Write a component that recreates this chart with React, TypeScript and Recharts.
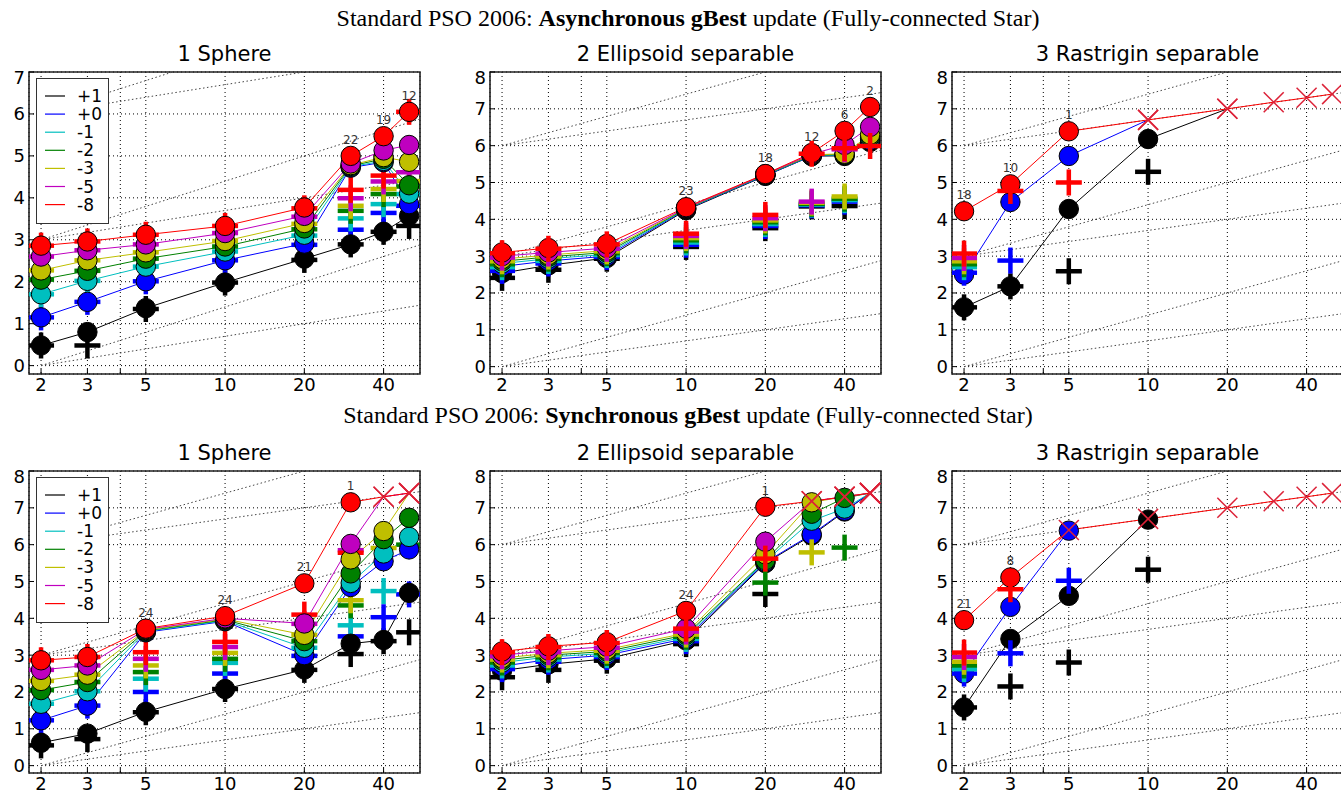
import React from 'react';
import {
  ComposedChart,
  Line,
  Scatter,
  XAxis,
  YAxis,
  CartesianGrid,
  ReferenceLine,
  ReferenceArea,
  LabelList,
  Legend,
} from 'recharts';

const DIMS = [2, 3, 5, 10, 20, 30, 40, 50];
// log10 of the evaluation budget per dimension, points on it are drawn as an x
const BUDGET = [6.0, 6.18, 6.4, 6.7, 7.0, 7.18, 7.3, 7.4];
const SERIES = ['+1', '+0', '-1', '-2', '-3', '-5', '-8'];
const COLORS = ['#000000', '#0000ff', '#00bfbf', '#008000', '#bfbf00', '#bf00bf', '#ff0000'];
const X_TICKS = [2, 3, 4, 5, 10, 20, 40];
const X_DOMAIN: [number, number] = [1.8, 55];
const GUIDE_START = [0, 3, 6];
const GUIDE_SLOPE = [1, 2];

type Vals = (number | null)[];

// --- asynchronous gBest ---
const A_SPHERE_ERT: Vals[] = [
  [0.48, 0.8, 1.37, 1.98, 2.55, 2.89, 3.19, 3.57],
  [1.15, 1.52, 2.01, 2.51, 2.91, 4.72, 4.85, 3.85],
  [1.7, 2.02, 2.36, 2.72, 3.12, 4.74, 4.88, 4.1],
  [2.05, 2.26, 2.55, 2.84, 3.27, 4.76, 4.93, 4.3],
  [2.27, 2.51, 2.7, 2.97, 3.4, 4.78, 4.97, 4.86],
  [2.6, 2.75, 2.89, 3.16, 3.57, 4.82, 5.13, 5.26],
  [2.86, 2.96, 3.12, 3.33, 3.77, 5.0, 5.47, 6.05],
];
const A_SPHERE_MED: Vals[] = [
  [0.48, 0.48, 1.35, 1.98, 2.52, 2.89, 3.19, 3.33],
  [1.15, 1.52, 2.01, 2.51, 2.88, 3.24, 3.64, 3.81],
  [1.7, 2.02, 2.36, 2.72, 3.1, 3.51, 3.85, 4.09],
  [2.05, 2.26, 2.55, 2.84, 3.25, 3.69, 4.09, 4.27],
  [2.27, 2.51, 2.7, 2.97, 3.38, 3.81, 4.21, 4.4],
  [2.6, 2.75, 2.89, 3.16, 3.55, 3.99, 4.39, 4.61],
  [2.86, 2.96, 3.12, 3.33, 3.75, 4.19, 4.53, 6.05],
];
const A_SPHERE_N: Vals = [null, null, null, null, null, 22, 19, 12];

const A_ELLI_ERT: Vals[] = [
  [2.54, 2.75, 2.95, 4.25, 5.18, 5.72, 5.72, 6.1],
  [2.72, 2.87, 3.0, 4.27, 5.19, 5.72, 5.74, 6.15],
  [2.8, 2.93, 3.05, 4.28, 5.2, 5.73, 5.75, 6.2],
  [2.86, 2.98, 3.1, 4.29, 5.21, 5.74, 5.76, 6.25],
  [2.92, 3.03, 3.15, 4.3, 5.22, 5.75, 5.78, 6.3],
  [3.0, 3.1, 3.22, 4.31, 5.22, 5.77, 6.02, 6.51],
  [3.1, 3.22, 3.33, 4.33, 5.23, 5.8, 6.4, 7.05],
];
const A_ELLI_MED: Vals[] = [
  [2.41, 2.63, 2.93, 3.25, 3.76, 4.35, 4.36, null],
  [2.6, 2.8, 2.98, 3.31, 3.82, 4.38, 4.48, null],
  [2.7, 2.87, 3.03, 3.37, 3.87, 4.4, 4.52, null],
  [2.78, 2.93, 3.08, 3.43, 3.92, 4.42, 4.56, null],
  [2.86, 2.99, 3.13, 3.49, 3.97, 4.45, 4.62, null],
  [2.96, 3.07, 3.2, 3.55, 4.03, 4.48, 5.9, null],
  [3.08, 3.2, 3.32, 3.61, 4.12, 5.78, 5.93, 5.99],
];
const A_ELLI_N: Vals = [null, null, null, 23, 18, 12, 6, 2];

const A_RAST_ERT: Vals[] = [
  [1.61, 2.18, 4.28, 6.18, 7.0, null, null, null],
  [2.5, 4.47, 5.72, 6.7, null, null, null, null],
  [null, null, null, null, null, null, null, null],
  [null, null, null, null, null, null, null, null],
  [null, null, null, null, null, null, null, null],
  [null, null, null, null, null, null, null, null],
  [4.22, 4.95, 6.39, 6.7, 7.0, 7.18, 7.3, 7.4],
];
const A_RAST_MED: Vals[] = [
  [1.61, 2.18, 2.59, 5.29, null, null, null, null],
  [2.55, 2.88, null, null, null, null, null, null],
  [2.7, null, null, null, null, null, null, null],
  [2.78, null, null, null, null, null, null, null],
  [2.86, null, null, null, null, null, null, null],
  [2.95, null, null, null, null, null, null, null],
  [3.07, 4.77, 5.0, null, null, null, null, null],
];
const A_RAST_N: Vals = [18, 10, 1, null, null, null, null, null];

// --- synchronous gBest ---
const S_SPHERE_ERT: Vals[] = [
  [0.62, 0.87, 1.46, 2.08, 2.61, 3.31, 3.41, 4.69],
  [1.23, 1.63, 3.62, 3.92, 3.0, 4.85, 5.55, 5.87],
  [1.68, 2.02, 3.64, 3.94, 3.2, 4.96, 5.76, 6.21],
  [2.05, 2.27, 3.66, 3.96, 3.38, 5.22, 6.15, 6.73],
  [2.3, 2.47, 3.68, 3.98, 3.55, 5.6, 6.37, 7.4],
  [2.6, 2.72, 3.7, 4.0, 3.86, 6.02, 7.3, 7.4],
  [2.86, 2.95, 3.72, 4.06, 4.95, 7.15, 7.3, 7.4],
];
const S_SPHERE_MED: Vals[] = [
  [0.55, 0.72, 1.45, 2.08, 2.6, 3.03, 3.38, 3.62],
  [1.23, 1.63, 2.0, 2.5, 2.98, 3.51, 4.03, 4.65],
  [1.68, 2.02, 2.36, 2.79, 3.2, 3.81, 4.74, null],
  [2.05, 2.27, 2.54, 2.9, 3.38, 4.35, null, 6.0],
  [2.3, 2.47, 2.72, 3.06, 3.55, 4.49, 5.91, null],
  [2.6, 2.72, 2.9, 3.22, 3.85, 5.85, null, null],
  [2.86, 2.95, 3.08, 3.36, 4.1, 5.78, null, null],
];
const S_SPHERE_N: Vals = [null, null, 24, 24, 21, 1, null, null];

const S_ELLI_ERT: Vals[] = [
  [2.58, 2.75, 2.9, 3.4, 5.5, 6.25, 6.9, 7.4],
  [2.7, 2.88, 3.0, 3.45, 5.52, 6.28, 6.92, 7.4],
  [2.8, 2.95, 3.05, 3.5, 5.55, 6.65, 6.98, 7.4],
  [2.86, 3.0, 3.1, 3.55, 5.58, 6.84, 7.27, 7.4],
  [2.92, 3.05, 3.15, 3.6, 5.74, 7.15, 7.3, 7.4],
  [3.0, 3.12, 3.23, 3.72, 6.08, 7.18, 7.3, 7.4],
  [3.1, 3.24, 3.35, 4.2, 7.03, 7.18, 7.3, 7.4],
];
const S_ELLI_MED: Vals[] = [
  [2.4, 2.6, 2.85, 3.3, 4.66, null, null, null],
  [2.62, 2.82, 2.95, 3.38, null, null, null, null],
  [2.72, 2.88, 3.0, 3.44, null, null, null, null],
  [2.8, 2.94, 3.06, 3.5, 4.97, null, 5.92, null],
  [2.88, 3.0, 3.12, 3.56, null, 5.79, null, null],
  [2.97, 3.08, 3.2, 3.64, null, null, null, null],
  [3.08, 3.22, 3.33, 3.72, 5.62, null, null, null],
];
const S_ELLI_N: Vals = [null, null, null, 24, 1, null, null, null];

const S_RAST_ERT: Vals[] = [
  [1.58, 3.44, 4.61, 6.68, null, null, null, null],
  [2.5, 4.31, 6.38, null, null, null, null, null],
  [null, null, null, null, null, null, null, null],
  [null, null, null, null, null, null, null, null],
  [null, null, null, null, null, null, null, null],
  [null, null, null, null, null, null, null, null],
  [3.95, 5.11, 6.4, 6.7, 7.0, 7.18, 7.3, 7.4],
];
const S_RAST_MED: Vals[] = [
  [1.58, 2.15, 2.8, 5.32, null, null, null, null],
  [2.5, 3.05, 5.02, null, null, null, null, null],
  [2.62, null, null, null, null, null, null, null],
  [2.72, null, null, null, null, null, null, null],
  [2.82, null, null, null, null, null, null, null],
  [2.95, null, null, null, null, null, null, null],
  [3.07, 4.79, null, null, null, null, null, null],
];
const S_RAST_N: Vals = [21, 8, null, null, null, null, null, null];

const PLOT_W = 391;
const PLOT_H = 302;
const MARGIN = { top: 5, right: 5, bottom: 0, left: 5 };
const Y_AXIS_W = 24;
const X_AXIS_H = 30;
const CAP_COLOR = '#dc2238';
const FONT = '"DejaVu Sans", Verdana, sans-serif';

interface PanelDef {
  title: string;
  ert: Vals[];
  med: Vals[];
  n: Vals;
  yMax: number;
  legend?: boolean;
  left: number;
  top: number;
}

const PANELS: PanelDef[] = [
  { title: '1 Sphere', ert: A_SPHERE_ERT, med: A_SPHERE_MED, n: A_SPHERE_N, yMax: 7, legend: true, left: 29, top: 72 },
  { title: '2 Ellipsoid separable', ert: A_ELLI_ERT, med: A_ELLI_MED, n: A_ELLI_N, yMax: 8, left: 490, top: 72 },
  { title: '3 Rastrigin separable', ert: A_RAST_ERT, med: A_RAST_MED, n: A_RAST_N, yMax: 8, left: 952, top: 72 },
  { title: '1 Sphere', ert: S_SPHERE_ERT, med: S_SPHERE_MED, n: S_SPHERE_N, yMax: 8, legend: true, left: 29, top: 471 },
  { title: '2 Ellipsoid separable', ert: S_ELLI_ERT, med: S_ELLI_MED, n: S_ELLI_N, yMax: 8, left: 490, top: 471 },
  { title: '3 Rastrigin separable', ert: S_RAST_ERT, med: S_RAST_MED, n: S_RAST_N, yMax: 8, left: 952, top: 471 },
];

const makeDot = (i: number) => (props: any) => {
  const { cx, cy, index, payload } = props;
  const key = `dot-${i}-${index}`;
  const v = payload ? payload[`s${i}`] : null;
  if (v == null || cx == null || cy == null) return <g key={key} />;
  if (Math.abs(v - BUDGET[index]) < 0.005) {
    const s = 10;
    return (
      <g key={key}>
        <line x1={cx - s} y1={cy - s} x2={cx + s} y2={cy + s} stroke={CAP_COLOR} strokeWidth={1.5} />
        <line x1={cx - s} y1={cy + s} x2={cx + s} y2={cy - s} stroke={CAP_COLOR} strokeWidth={1.5} />
      </g>
    );
  }
  return <circle key={key} cx={cx} cy={cy} r={9.7} fill={COLORS[i]} stroke="#000" strokeWidth={1} />;
};

const makePlus = (color: string) => (props: any) => {
  const { cx, cy } = props;
  if (cx == null || cy == null) return <g />;
  const s = 13;
  return (
    <g>
      <line x1={cx - s} y1={cy} x2={cx + s} y2={cy} stroke={color} strokeWidth={4.5} />
      <line x1={cx} y1={cy - s} x2={cx} y2={cy + s} stroke={color} strokeWidth={4.5} />
    </g>
  );
};

const renderCount = (props: any) => {
  const { x, y, value, index } = props;
  if (value == null) return null;
  return (
    <text key={`n-${index}`} x={x} y={y - 12} textAnchor="middle" fontSize={12} fill="#333" fontFamily={FONT}>
      {value}
    </text>
  );
};

const LegendBox = () => (
  <svg width={73} height={146} style={{ display: 'block' }}>
    <rect x={0.5} y={0.5} width={72} height={145} fill="#fff" stroke="#333" strokeWidth={1} />
    {SERIES.map((name, i) => {
      const y = 18 + i * 18.1;
      return (
        <g key={name}>
          <line x1={9} x2={29} y1={y} y2={y} stroke={COLORS[i]} strokeWidth={1.2} />
          <text x={41} y={y} dominantBaseline="central" fontSize={17} fontFamily={FONT} fill="#000">
            {name}
          </text>
        </g>
      );
    })}
  </svg>
);

const Panel: React.FC<{ p: PanelDef }> = ({ p }) => {
  const rows = DIMS.map((dim, j) => {
    const row: Record<string, number | null> = { dim, n: p.n[j] };
    SERIES.forEach((_, i) => {
      row[`s${i}`] = p.ert[i][j];
    });
    return row;
  });
  const yTicks = Array.from({ length: p.yMax + 1 }, (_, k) => k);
  const guides: { b: number; k: number }[] = [];
  GUIDE_START.forEach((b) => GUIDE_SLOPE.forEach((k) => guides.push({ b, k })));

  const width = MARGIN.left + Y_AXIS_W + PLOT_W + MARGIN.right;
  const height = MARGIN.top + PLOT_H + X_AXIS_H;

  return (
    <div style={{ position: 'absolute', left: p.left - MARGIN.left - Y_AXIS_W, top: p.top - MARGIN.top }}>
      <ComposedChart width={width} height={height} data={rows} margin={MARGIN}>
        <CartesianGrid stroke="#000" strokeDasharray="1 3" strokeWidth={1} />
        <XAxis
          dataKey="dim"
          type="number"
          scale="log"
          domain={X_DOMAIN}
          allowDataOverflow
          ticks={X_TICKS}
          tickFormatter={(v) => (v === 4 ? '' : String(v))}
          axisLine={false}
          tickLine={{ stroke: '#000' }}
          tickSize={-5}
          tickMargin={9}
          height={X_AXIS_H}
          tick={{ fill: '#000', fontSize: 18, fontFamily: FONT }}
        />
        <YAxis
          type="number"
          domain={[-0.2, p.yMax]}
          allowDataOverflow
          ticks={yTicks}
          axisLine={false}
          tickLine={{ stroke: '#000' }}
          tickSize={-5}
          tickMargin={9}
          width={Y_AXIS_W}
          tick={{ fill: '#000', fontSize: 18, fontFamily: FONT }}
        />
        {guides.map(({ b, k }) => {
          const xEnd = Math.min(X_DOMAIN[1], 2 * Math.pow(10, (p.yMax - b) / k));
          const yEnd = b + k * Math.log10(xEnd / 2);
          return (
            <ReferenceLine
              key={`g-${b}-${k}`}
              segment={[
                { x: 2, y: b },
                { x: xEnd, y: yEnd },
              ]}
              stroke="#444"
              strokeDasharray="1.5 2.5"
              strokeWidth={1}
              ifOverflow="visible"
            />
          );
        })}
        <ReferenceArea
          x1={X_DOMAIN[0]}
          x2={X_DOMAIN[1]}
          y1={-0.2}
          y2={p.yMax}
          fill="none"
          stroke="#222"
          strokeWidth={1.6}
          ifOverflow="visible"
        />
        {SERIES.flatMap((name, i) => {
          const pts = DIMS.map((dim, j) => ({ dim, v: p.med[i][j] })).filter((d) => d.v != null);
          return [
            <Line
              key={`l-${name}`}
              dataKey={`s${i}`}
              stroke={COLORS[i]}
              strokeWidth={1}
              dot={makeDot(i)}
              activeDot={false}
              isAnimationActive={false}
            >
              {i === SERIES.length - 1 && <LabelList dataKey="n" content={renderCount} />}
            </Line>,
            <Scatter
              key={`p-${name}`}
              data={pts}
              dataKey="v"
              fill={COLORS[i]}
              shape={makePlus(COLORS[i])}
              isAnimationActive={false}
            />,
          ];
        })}
        {p.legend && (
          <Legend
            layout="vertical"
            align="center"
            verticalAlign="middle"
            content={() => <LegendBox />}
            wrapperStyle={{ position: 'absolute', left: 36, top: 11, width: 73 }}
          />
        )}
      </ComposedChart>
    </div>
  );
};

const Title: React.FC<{ cx: number; top: number; children: React.ReactNode; serif?: boolean }> = ({
  cx,
  top,
  children,
  serif,
}) => (
  <div
    style={{
      position: 'absolute',
      left: cx - 450,
      width: 900,
      top,
      textAlign: 'center',
      lineHeight: '26px',
      fontSize: serif ? 24 : 21,
      fontFamily: serif ? '"Liberation Serif", "Times New Roman", serif' : FONT,
      whiteSpace: 'nowrap',
    }}
  >
    {children}
  </div>
);

export default function App() {
  return (
    <div
      style={{
        position: 'absolute',
        left: 0,
        top: 0,
        width: 1341,
        height: 794,
        overflow: 'hidden',
        background: '#fff',
      }}
    >
      <Title cx={688} top={5} serif>
        Standard PSO 2006: <b>Asynchronous gBest</b> update (Fully-connected Star)
      </Title>
      <Title cx={688} top={402} serif>
        Standard PSO 2006: <b>Synchronous gBest</b> update (Fully-connected Star)
      </Title>
      {PANELS.map((p, k) => (
        <React.Fragment key={k}>
          <Title cx={p.left + PLOT_W / 2} top={p.top - 31}>
            {p.title}
          </Title>
          <Panel p={p} />
        </React.Fragment>
      ))}
    </div>
  );
}
